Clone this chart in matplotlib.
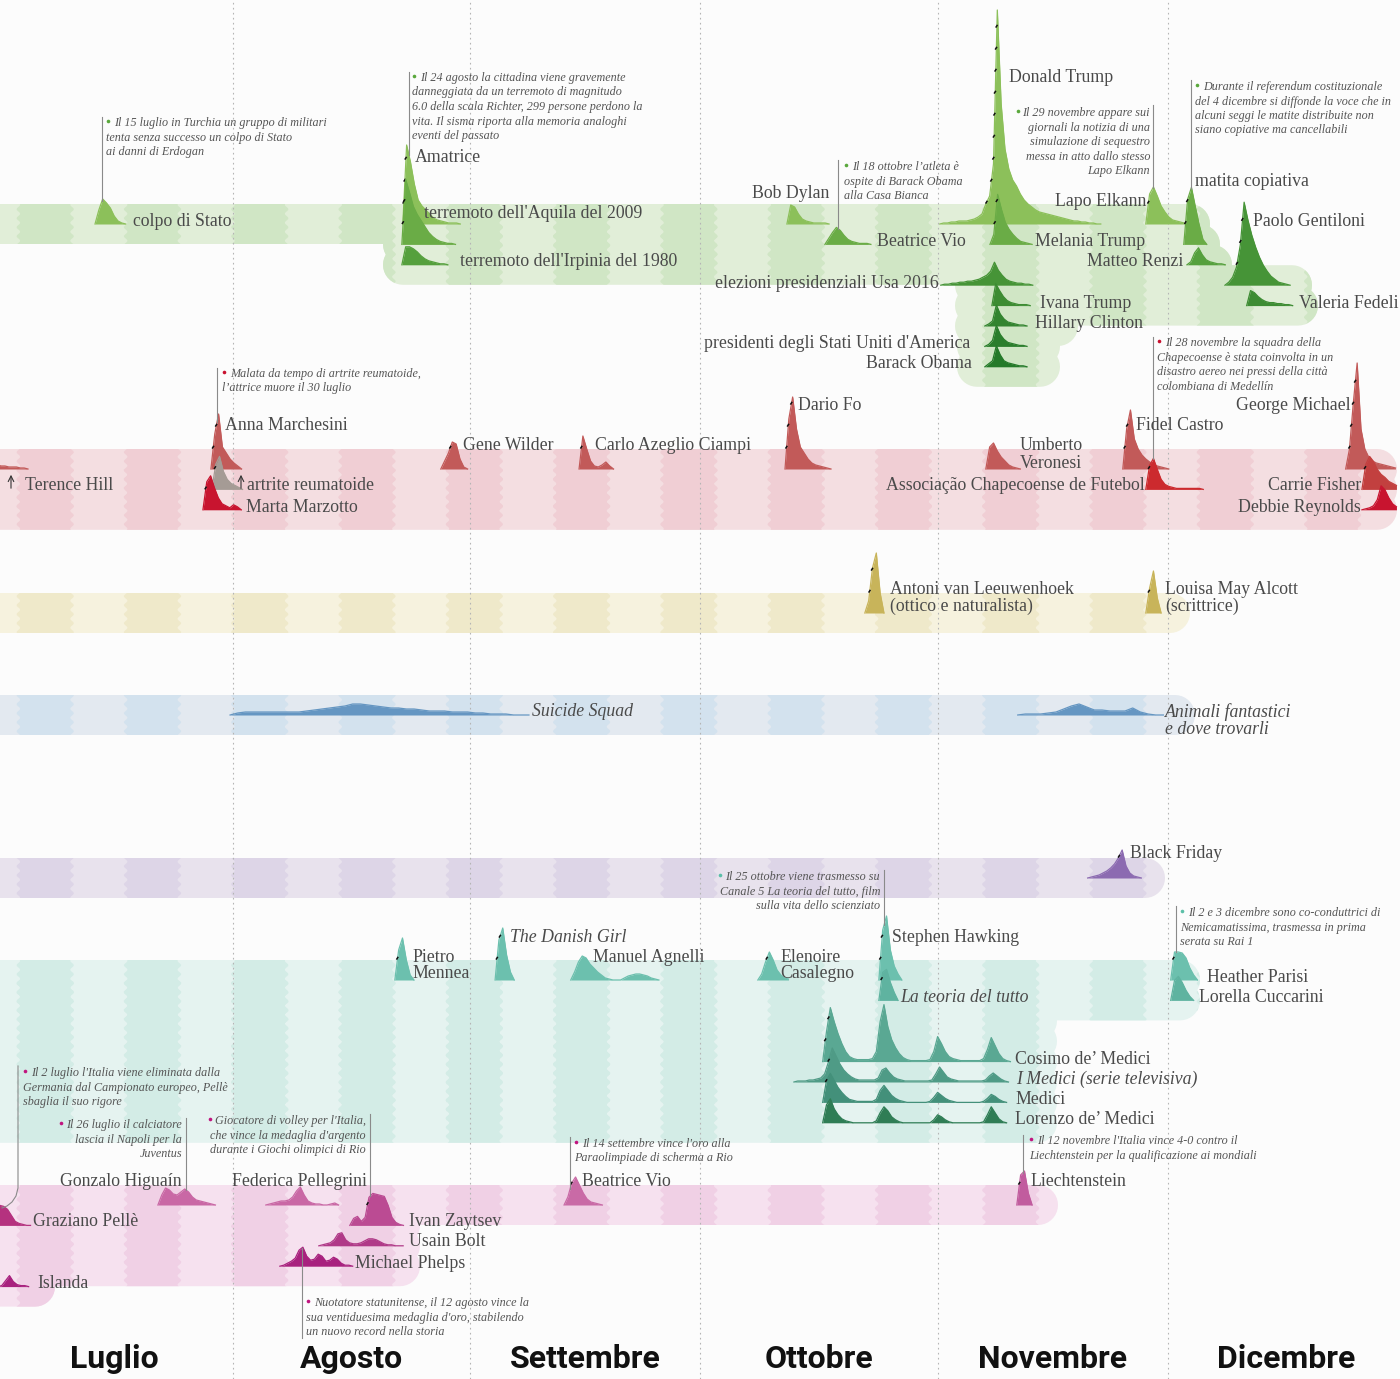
import numpy as np
import pandas as pd
import matplotlib.pyplot as plt
import matplotlib.dates as mdates
from matplotlib.patches import Polygon
from matplotlib.collections import PolyCollection, LineCollection

W, H = 1400, 1379
plt.rcParams['font.family'] = ['Liberation Serif', 'DejaVu Serif']

# ---------------------------------------------------------------- dati
# curve di interesse: data d'inizio e un valore ogni 12 ore (1 giorno per i film)

# politica e cronaca
pol_nomi = ['colpo di Stato', 'Amatrice', "terremoto dell'Aquila del 2009",
            "terremoto dell'Irpinia del 1980", 'Bob Dylan', 'Beatrice Vio', 'Donald Trump',
            'Melania Trump', 'Lapo Elkann', 'matita copiativa', 'Matteo Renzi', 'Paolo Gentiloni',
            'Valeria Fedeli', 'elezioni presidenziali Usa 2016', 'Ivana Trump', 'Hillary Clinton',
            "presidenti degli Stati Uniti d'America", 'Barack Obama']
pol_inizio = ['2016-07-14 00:00', '2016-08-23 04:00', '2016-08-23 01:00', '2016-08-23 01:00',
              '2016-10-12 07:00', '2016-10-17 06:00', '2016-11-01 06:00', '2016-11-07 19:00',
              '2016-11-28 03:00', '2016-12-03 02:00', '2016-12-03 12:00', '2016-12-08 11:00',
              '2016-12-11 07:00', '2016-11-01 09:00', '2016-11-08 01:00', '2016-11-07 03:00',
              '2016-11-07 03:00', '2016-11-07 03:00']
pol_valori = [
    [0, 14, 25, 21, 16, 8, 3, 1, 0],
    [0, 79, 62, 40, 24, 18, 14, 10, 6, 4, 3, 2, 1, 1, 1, 0],
    [0, 65, 52, 38, 30, 24, 18, 12, 8, 5, 3, 2, 1, 1, 0],
    [0, 18, 18, 16, 13, 9, 6, 4, 3, 2, 1, 1, 0],
    [0, 19, 17, 10, 5, 3, 2, 1, 1, 1, 1, 0],
    [0, 6, 12, 17, 14, 9, 5, 3, 2, 1, 1, 1, 0],
    [0, 1, 1, 2, 2, 3, 3, 3, 4, 5, 7, 10, 20, 28, 60, 214, 120, 75, 55, 44, 38, 30, 24, 20, 17,
     14, 12, 11, 10, 9, 8, 7, 6, 5, 4, 3, 3, 2, 2, 1, 1, 0, 0],
    [0, 10, 50, 35, 22, 15, 10, 6, 3, 2, 1, 0],
    [0, 30, 37, 28, 18, 12, 7, 4, 3, 2, 1, 0],
    [0, 45, 57, 38, 20, 5, 0],
    [0, 3, 12, 17, 10, 5, 3, 2, 1, 1, 0],
    [0, 3, 8, 18, 40, 83, 65, 50, 38, 28, 20, 14, 9, 6, 3, 2, 1, 0],
    [0, 15, 13, 9, 6, 4, 3, 3, 2, 2, 1, 1, 0],
    [0, 1, 1, 2, 2, 3, 3, 4, 4, 5, 6, 8, 10, 14, 23, 15, 10, 6, 4, 3, 2, 2, 1, 1, 0],
    [0, 22, 15, 9, 5, 3, 2, 1, 1, 1, 0],
    [0, 2, 5, 21, 12, 7, 4, 3, 2, 1, 1, 0],
    [0, 2, 6, 21, 12, 7, 4, 3, 2, 1, 1, 0],
    [0, 3, 6, 21, 12, 6, 4, 3, 2, 1, 1, 0],
]

# morti
mor_nomi = ['Terence Hill', 'Anna Marchesini', 'artrite reumatoide', 'Marta Marzotto', 'Gene Wilder',
            'Carlo Azeglio Ciampi', 'Dario Fo', 'Umberto\nVeronesi', 'Fidel Castro',
            'Associação Chapecoense de Futebol', 'George Michael', 'Carrie Fisher', 'Debbie Reynolds']
mor_inizio = ['2016-06-30 18:00', '2016-07-29 03:00', '2016-07-29 06:00', '2016-07-28 02:00',
              '2016-08-28 03:00', '2016-09-15 04:00', '2016-10-12 01:00', '2016-11-07 06:00',
              '2016-11-25 03:00', '2016-11-28 03:00', '2016-12-24 05:00', '2016-12-26 08:00',
              '2016-12-26 08:00']
mor_valori = [
    [5, 4, 3, 3, 2, 2, 2, 1, 1, 0],
    [0, 35, 55, 22, 16, 10, 6, 3, 0],
    [0, 25, 33, 18, 10, 6, 4, 2, 0],
    [0, 28, 34, 22, 12, 6, 4, 2, 5, 3, 0],
    [0, 8, 16, 27, 25, 10, 2, 0],
    [0, 33, 20, 8, 3, 2, 4, 7, 3, 0],
    [0, 50, 72, 40, 22, 16, 10, 6, 4, 3, 2, 1, 0],
    [0, 22, 26, 18, 12, 8, 4, 2, 1, 0],
    [0, 40, 59, 30, 20, 14, 10, 7, 5, 3, 2, 1, 0],
    [0, 24, 31, 20, 10, 5, 3, 2, 1, 1, 1, 1, 1, 1, 1, 0],
    [0, 20, 66, 106, 40, 20, 12, 8, 6, 5, 4, 3, 2, 1],
    [0, 25, 33, 28, 20, 15, 12, 8, 6, 4],
    [0, 1, 2, 4, 10, 24, 20, 12, 6, 3],
]

# doodle
doo_nomi = ['Antoni van Leeuwenhoek\n(ottico e naturalista)', 'Louisa May Alcott\n(scrittrice)']
doo_inizio = ['2016-10-22 11:00', '2016-11-28 03:00']
doo_valori = [[0, 12, 45, 60, 20, 0], [0, 25, 42, 15, 0]]

# film (valori giornalieri)
fil_nomi = ['Suicide Squad', 'Animali fantastici\ne dove trovarli']
fil_inizio = ['2016-07-31 15:00', '2016-11-11 10:00']
fil_valori = [
    [0, 2, 3, 3, 3, 3, 3, 3, 3, 3, 4, 5, 6, 7, 8, 9, 11, 11, 10, 9, 8, 7, 7, 6, 6, 5, 4, 4, 4, 3,
     3, 3, 2, 2, 1, 1, 1, 0, 0, 0],
    [0, 1, 1, 1, 2, 3, 6, 9, 11, 8, 5, 5, 4, 4, 4, 7, 3, 1, 0, 0],
]

# acquisti
acq_nomi = ['Black Friday']
acq_inizio = ['2016-11-20 13:00']
acq_valori = [[0, 1, 2, 3, 5, 7, 10, 14, 20, 28, 12, 5, 2, 1, 0]]

# tv e personaggi
tv_nomi = ['Pietro\nMennea', 'The Danish Girl', 'Manuel Agnelli', 'Elenoire\nCasalegno',
           'Stephen Hawking', 'La teoria del tutto', 'Heather Parisi', 'Lorella Cuccarini',
           'Cosimo de’ Medici', 'I Medici (serie televisiva)', 'Medici', 'Lorenzo de’ Medici']
tv_inizio = ['2016-08-22 03:00', '2016-09-04 05:00', '2016-09-14 02:00', '2016-10-08 12:00',
             '2016-10-24 07:00', '2016-10-24 07:00', '2016-12-01 09:00', '2016-12-01 09:00',
             '2016-10-16 23:00', '2016-10-13 05:00', '2016-10-16 23:00', '2016-10-16 23:00']
tv_valori = [
    [0, 30, 42, 20, 5, 0],
    [0, 40, 52, 25, 8, 0],
    [0, 8, 18, 24, 22, 16, 12, 8, 5, 2, 1, 0, 0, 0, 2, 4, 5, 6, 6, 5, 4, 2, 1, 0],
    [0, 6, 18, 28, 20, 10, 5, 2, 1],
    [0, 50, 64, 30, 14, 6, 0],
    [0, 28, 31, 18, 8, 0],
    [0, 28, 28, 27, 22, 12, 5, 0],
    [0, 20, 24, 18, 10, 4, 0],
    [0, 30, 54, 40, 28, 18, 10, 5, 3, 2, 2, 2, 2, 3, 10, 40, 57, 35, 22, 14, 8, 4, 2, 1, 1, 1,
     1, 1, 2, 10, 25, 18, 10, 5, 3, 2, 1, 1, 1, 1, 1, 1, 3, 12, 24, 16, 8, 3, 1, 0],
    [0, 1, 1, 1, 2, 2, 3, 4, 8, 20, 34, 26, 18, 12, 8, 5, 3, 2, 2, 2, 2, 2, 4, 12, 14, 9, 5, 3,
     2, 1, 1, 1, 1, 1, 1, 1, 2, 8, 15, 10, 5, 3, 2, 1, 1, 1, 1, 1, 1, 1, 2, 6, 9, 6, 3, 1, 0],
    [0, 22, 29, 22, 15, 10, 6, 3, 2, 1, 1, 1, 1, 1, 3, 12, 17, 12, 7, 4, 2, 1, 0, 0, 0, 0, 0, 0,
     1, 5, 10, 7, 4, 2, 1, 0, 0, 0, 0, 0, 0, 0, 1, 4, 8, 6, 3, 1, 0],
    [0, 18, 24, 14, 8, 4, 2, 1, 0, 0, 0, 0, 0, 0, 2, 10, 16, 12, 6, 3, 1, 0, 0, 0, 0, 0, 0, 0,
     0, 3, 8, 6, 3, 1, 0, 0, 0, 0, 0, 0, 0, 0, 1, 8, 16, 10, 4, 1, 0],
]

# sport
spo_nomi = ['Gonzalo Higuaín', 'Federica Pellegrini', 'Beatrice Vio', 'Liechtenstein',
            'Graziano Pellè', 'Ivan Zaytsev', 'Usain Bolt', 'Michael Phelps', 'Islanda']
spo_inizio = ['2016-07-22 05:00', '2016-08-05 07:00', '2016-09-13 05:00', '2016-11-11 07:00',
              '2016-07-01 02:00', '2016-08-16 06:00', '2016-08-12 05:00', '2016-08-07 03:00',
              '2016-07-01 08:00']
spo_valori = [
    [0, 10, 17, 15, 11, 10, 13, 16, 13, 8, 5, 4, 3, 2, 1, 0],
    [0, 1, 2, 3, 4, 4, 5, 8, 14, 18, 10, 4, 2, 1, 1, 0, 0, 1, 2, 0],
    [0, 8, 22, 28, 20, 12, 6, 3, 2, 1, 0],
    [0, 30, 34, 12, 0],
    [18, 20, 19, 16, 10, 4, 2, 1, 0, 0],
    [0, 7, 9, 4, 8, 28, 32, 31, 30, 29, 20, 8, 3, 1, 0],
    [0, 1, 2, 3, 6, 12, 13, 6, 3, 2, 2, 3, 5, 7, 7, 6, 4, 2, 1, 1, 0, 0, 0],
    [0, 1, 3, 5, 8, 16, 19, 10, 6, 7, 12, 10, 5, 6, 9, 7, 3, 1, 1, 0],
    [0, 1, 6, 11, 5, 2, 1, 1, 0],
]

mesi = ['Luglio', 'Agosto', 'Settembre', 'Ottobre', 'Novembre', 'Dicembre']

# ---------------------------------------------------------------- impaginazione
RIGA = 20.4          # distanza tra le righe di una fascia (px)
MEZZA = 20           # mezza altezza di una riga
TACCA = 22           # passo delle tacche sulle curve
DY = 2               # piccolo scarto verticale del testo

temi = [
    dict(nomi=pol_nomi, inizio=pol_inizio, valori=pol_valori, passo=0.5, base=224,
         righe=[0, 0, 1, 2, 0, 1, 0, 1, 0, 1, 2, 3, 4, 3, 4, 5, 6, 7],
         colori=['#8cc05a', '#6aac46', '#55a03d', '#469437', '#3d8c33', '#338430', '#2b7e2d', '#257a2a'],
         banda='#e1eed8', striscia='#d0e6c5', punto='#5aa83c',
         fascia=[(0, -40, 1210), (1, 383, 1220), (2, 383, 1232), (3, 955, 1312), (4, 955, 1318),
                 (5, 955, 1078), (6, 957, 1060), (7, 957, 1060)],
         etichette=[(133, 219, 'left'), (415, 155, 'left'), (424, 211, 'left'), (460, 260, 'left'),
                    (829, 192, 'right'), (877, 240, 'left'), (1009, 76, 'left'), (1035, 240, 'left'),
                    (1146, 199, 'right'), (1195, 179, 'left'), (1183, 260, 'right'),
                    (1253, 219, 'left'), (1299, 301, 'left'), (939, 281, 'right'),
                    (1040, 301, 'left'), (1035, 321, 'left'), (970, 342, 'right'),
                    (972, 362, 'right')]),
    dict(nomi=mor_nomi, inizio=mor_inizio, valori=mor_valori, passo=0.5, base=469,
         righe=[0, 0, 1, 2, 0, 0, 0, 0, 0, 1, 0, 1, 2],
         colori=['#c25a59', '#c25a59', '#a59b95', '#c8142f', '#c25a59', '#c25a59', '#c25a59',
                 '#c25a59', '#c25a59', '#cc2a2e', '#c25a59', '#c2403f', '#c8142f'],
         banda='#f4dee1', striscia='#f0ced4', punto='#c8102e',
         fascia=[(0, -40, 1397), (1, -40, 1397), (2, -40, 1397)],
         etichette=[(25, 484, 'left'), (225, 423, 'left'), (247, 484, 'left'), (246, 505, 'left'),
                    (463, 444, 'left'), (595, 444, 'left'), (798, 403, 'left'), (1020, 444, 'left'),
                    (1136, 423, 'left'), (1145, 484, 'right'), (1351, 404, 'right'),
                    (1361, 484, 'right'), (1361, 505, 'right')]),
    dict(nomi=doo_nomi, inizio=doo_inizio, valori=doo_valori, passo=0.5, base=613,
         righe=[0, 0], colori=['#c8b45a', '#c8b45a'],
         banda='#f6f2de', striscia='#efe9ca', punto='#c8b45a',
         fascia=[(0, -40, 1190)],
         etichette=[(890, 587, 'left'), (1165, 587, 'left')]),
    dict(nomi=fil_nomi, inizio=fil_inizio, valori=fil_valori, passo=1.0, base=715,
         righe=[0, 0], colori=['#6596c2', '#6596c2'],
         banda='#e3e9f0', striscia='#d3e2ee', punto='#6596c2',
         fascia=[(0, -40, 1195)],
         etichette=[(532, 710, 'left'), (1165, 710, 'left')]),
    dict(nomi=acq_nomi, inizio=acq_inizio, valori=acq_valori, passo=0.5, base=878,
         righe=[0], colori=['#8c6bb1'],
         banda='#e8e2ed', striscia='#ddd5e7', punto='#8c6bb1',
         fascia=[(0, -40, 1165)],
         etichette=[(1130, 852, 'left')]),
    dict(nomi=tv_nomi, inizio=tv_inizio, valori=tv_valori, passo=0.5, base=980,
         righe=[0, 0, 0, 0, 0, 1, 0, 1, 4, 5, 6, 7],
         colori=['#6cc0ae', '#6cc0ae', '#6cc0ae', '#6cc0ae', '#6cc0ae', '#5fb3a0', '#6cc0ae',
                 '#5fb3a0', '#5aa893', '#4f9b86', '#43907a', '#2f7d55'],
         banda='#e5f3f0', striscia='#d3ece6', punto='#5bbfa8',
         fascia=[(0, -40, 1200), (1, -40, 1200), (2, -40, 1057), (3, -40, 1057), (4, -40, 1057),
                 (5, -40, 1057), (6, -40, 1057), (7, -40, 1057)],
         etichette=[(412, 955, 'left'), (510, 935, 'left'), (593, 955, 'left'), (780, 955, 'left'),
                    (892, 935, 'left'), (900, 996, 'left'), (1207, 975, 'left'), (1199, 996, 'left'),
                    (1015, 1057, 'left'), (1016, 1077, 'left'), (1015, 1098, 'left'),
                    (1015, 1118, 'left')]),
    dict(nomi=spo_nomi, inizio=spo_inizio, valori=spo_valori, passo=0.5, base=1205,
         righe=[0, 0, 0, 0, 1, 1, 2, 3, 4],
         colori=['#c968a5', '#c968a5', '#c96aa6', '#c15c9e', '#b5327f', '#bb4b93', '#b03a88',
                 '#a8217e', '#a8217e'],
         banda='#f6e1ef', striscia='#f0d0e5', punto='#c0157f',
         fascia=[(0, -40, 1058), (1, -40, 420), (2, -40, 420), (3, -40, 420), (4, -40, 55)],
         etichette=[(182, 1179, 'right'), (367, 1179, 'right'), (582, 1179, 'left'),
                    (1030, 1179, 'left'), (33, 1220, 'left'), (409, 1220, 'left'),
                    (409, 1240, 'left'), (355, 1261, 'left'), (37, 1281, 'left')]),
]
corsivi = {'Suicide Squad', 'Animali fantastici\ne dove trovarli', 'The Danish Girl',
           'La teoria del tutto', 'I Medici (serie televisiva)'}

# note: (tema, curva, x testo, y prima riga, allineamento, x linea, y estremo linea, righe)
note = [
    (0, 'colpo di Stato', 106, 121, 'left', 102, 117,
     ['Il 15 luglio in Turchia un gruppo di militari', 'tenta senza successo un colpo di Stato',
      'ai danni di Erdogan']),
    (0, 'Amatrice', 412, 76, 'left', 409, 72,
     ['Il 24 agosto la cittadina viene gravemente', 'danneggiata da un terremoto di magnitudo',
      '6.0 della scala Richter, 299 persone perdono la', 'vita. Il sisma riporta alla memoria analoghi',
      'eventi del passato']),
    (0, 'Beatrice Vio', 844, 165, 'left', 838, 160,
     ['Il 18 ottobre l’atleta è', 'ospite di Barack Obama', 'alla Casa Bianca']),
    (0, 'Lapo Elkann', 1150, 111, 'right', 1153, 105,
     ['Il 29 novembre appare sui', 'giornali la notizia di una', 'simulazione di sequestro',
      'messa in atto dallo stesso', 'Lapo Elkann']),
    (0, 'matita copiativa', 1195, 85, 'left', 1191, 80,
     ['Durante il referendum costituzionale', 'del 4 dicembre si diffonde la voce che in',
      'alcuni seggi le matite distribuite non', 'siano copiative ma cancellabili']),
    (1, 'Anna Marchesini', 222, 372, 'left', 217, 368,
     ['Malata da tempo di artrite reumatoide,', 'l’attrice muore il 30 luglio']),
    (1, 'Associação Chapecoense de Futebol', 1157, 341, 'left', 1153, 337,
     ['Il 28 novembre la squadra della', 'Chapecoense è stata coinvolta in un',
      'disastro aereo nei pressi della città', 'colombiana di Medellín']),
    (5, 'Stephen Hawking', 880, 875, 'right', 884, 870,
     ['Il 25 ottobre viene trasmesso su', 'Canale 5 La teoria del tutto, film',
      'sulla vita dello scienziato']),
    (5, 'Heather Parisi', 1180, 911, 'left', 1176, 906,
     ['Il 2 e 3 dicembre sono co-conduttrici di', 'Nemicamatissima, trasmessa in prima',
      'serata su Rai 1']),
    (6, 'Graziano Pellè', 23, 1071, 'left', None, None,
     ["Il 2 luglio l'Italia viene eliminata dalla", 'Germania dal Campionato europeo, Pellè',
      'sbaglia il suo rigore']),
    (6, 'Gonzalo Higuaín', 182, 1123, 'right', 186, 1118,
     ['Il 26 luglio il calciatore', 'lascia il Napoli per la', 'Juventus']),
    (6, 'Ivan Zaytsev', 366, 1119, 'right', 370, 1114,
     ["Giocatore di volley per l'Italia,", "che vince la medaglia d'argento",
      'durante i Giochi olimpici di Rio']),
    (6, 'Beatrice Vio', 574, 1142, 'left', 570, 1137,
     ["Il 14 settembre vince l'oro alla", 'Paraolimpiade di scherma a Rio']),
    (6, 'Liechtenstein', 1029, 1139, 'left', 1023, 1135,
     ["Il 12 novembre l'Italia vince 4-0 contro il", 'Liechtenstein per la qualificazione ai mondiali']),
    (6, 'Michael Phelps', 306, 1301, 'left', 302, 1338,
     ['Nuotatore statunitense, il 12 agosto vince la', "sua ventiduesima medaglia d'oro, stabilendo",
      'un nuovo record nella storia']),
]

# ---------------------------------------------------------------- disegno
SFONDO = '#fcfcfc'
TESTO = '#4a4a4a'
fig = plt.figure(figsize=(W / 100, H / 100), dpi=100, facecolor=SFONDO)
ax = fig.add_axes([0, 0, 1, 1])
ax.set_facecolor(SFONDO)
t0 = mdates.date2num(pd.Timestamp('2016-07-01'))
ax.set_xlim(t0 + 0.6, t0 + 183.3)
ax.set_ylim(H, 0)
ax.axis('off')
xa0, xa1 = ax.get_xlim()
GPX = (xa1 - xa0) / W


def px2x(p):
    return xa0 + np.asarray(p, dtype=float) * GPX


def bordo(pa, pb, ya, yb, r=20, n=10):
    r = min(r, (yb - ya) / 2, (pb - pa) / 2)
    a = np.linspace(0, np.pi / 2, n)
    pts = []
    for cx, cy, a0 in [(pb - r, ya + r, -np.pi / 2), (pb - r, yb - r, 0),
                       (pa + r, yb - r, np.pi / 2), (pa + r, ya + r, np.pi)]:
        pts += list(zip(cx + r * np.cos(a0 + a), cy + r * np.sin(a0 + a)))
    pts = np.array(pts)
    pts[:, 0] = px2x(pts[:, 0])
    return pts


settimane = pd.date_range('2016-06-20', '2017-01-10', freq='14D')


def strisce(ya, yb):
    yy = np.arange(ya, yb + 1, 1.0)
    onda = 1.8 * GPX * np.sin(2 * np.pi * yy / 9.0)
    polys = []
    for s in settimane:
        a = mdates.date2num(s)
        b = a + 7
        sx = np.column_stack([a - onda, yy])
        dx = np.column_stack([b + onda, yy])[::-1]
        polys.append(np.vstack([sx, dx]))
    return polys


curve = {}
for it, t in enumerate(temi):
    # fascia di sfondo con le settimane alterne
    patches = []
    for r, pa, pb in t['fascia']:
        yc = t['base'] + r * RIGA
        p = Polygon(bordo(pa, pb, yc - MEZZA, yc + MEZZA), closed=True, fc=t['banda'],
                    ec='none', zorder=1)
        ax.add_patch(p)
        patches.append(p)
    rmax = max(f[0] for f in t['fascia'])
    polys = strisce(t['base'] - MEZZA - 2, t['base'] + rmax * RIGA + MEZZA + 2)
    for p in patches:
        pc = PolyCollection(polys, facecolors=t['striscia'], edgecolors='none', zorder=2)
        ax.add_collection(pc)
        pc.set_clip_path(p)

    ordine = sorted(range(len(t['nomi'])), key=lambda i: t['righe'][i])
    for k, i in enumerate(ordine):
        v = np.array(t['valori'][i], dtype=float)
        x = mdates.date2num(pd.Timestamp(t['inizio'][i])) + np.arange(len(v)) * t['passo']
        r = t['righe'][i]
        yb = t['base'] + r * RIGA
        col = t['colori'][i] if len(t['colori']) == len(t['nomi']) else t['colori'][r]
        z = 4 + r * 0.05 + k * 0.001
        ax.fill_between(x, yb, yb - v, color=col, lw=0, zorder=z)
        ax.plot(x, yb - v, color=col, lw=0.9, zorder=z)
        curve[(it, t['nomi'][i])] = (x, v, yb)
        # tacche nere sul fianco sinistro
        seg = []
        for liv in np.arange(TACCA, v.max() - 4, TACCA):
            j = int(np.argmax(v >= liv))
            xx = np.interp(liv, [v[j - 1], v[j]], [x[j - 1], x[j]])
            seg.append([(xx - 1.2 * GPX, yb - liv + 1.6), (xx + 0.6 * GPX, yb - liv - 1.2)])
        if seg:
            ax.add_collection(LineCollection(seg, colors='#111111', lw=1.1, zorder=z + 0.0005))

    # etichette
    for nome, (xp, yp, ha) in zip(t['nomi'], t['etichette']):
        stile = 'italic' if nome in corsivi else 'normal'
        for k, riga in enumerate(nome.split('\n')):
            ax.text(px2x(xp), yp + DY + k * 17, riga, ha=ha, va='center', fontsize=12.8,
                    color=TESTO, style=stile, zorder=8)

# linee dei mesi
for m in pd.date_range('2016-08-01', periods=5, freq='MS'):
    ax.axvline(mdates.date2num(m), color='#b5b5b5', lw=0.8, ls=(0, (1.5, 3)), zorder=3)

# frecce per le voci che compaiono nella riga sopra
for xp in [11, 241]:
    ax.annotate('', xy=(px2x(xp), 472), xytext=(px2x(xp), 491),
                arrowprops=dict(arrowstyle='->', color='#333333', lw=0.8), zorder=8)

# note
fig.canvas.draw()
rend = fig.canvas.get_renderer()
NOTA = dict(va='center', fontsize=8.7, style='italic', color='#555555', zorder=8)
for it, nome, tx, ty, ha, lx, ly, righe in note:
    colp = temi[it]['punto']
    for k, s in enumerate(righe):
        y = ty + k * 14.5
        if k == 0 and ha == 'left':
            ax.plot(px2x(tx + 2), y, 'o', ms=2.6, color=colp, mec='none', zorder=8)
            ax.text(px2x(tx + 8), y + DY, s, ha='left', **NOTA)
        else:
            tt = ax.text(px2x(tx), y + DY, s, ha=ha, **NOTA)
            if k == 0:
                bb = tt.get_window_extent(rend)
                ax.plot(px2x(bb.x0 - 5), y, 'o', ms=2.6, color=colp, mec='none', zorder=8)
    x, v, yb = curve[(it, nome)]
    if lx is None:
        # collegamento curvo verso la curva di Pellè
        yy = np.array([ty - 5, 1188, 1196, 1202, 1206, 1208])
        xx = np.array([18, 18, 16, 12, 7, 2])
        ax.plot(px2x(xx), yy, color='#8a8a8a', lw=0.8, zorder=7)
        continue
    yp = yb - np.interp(px2x(lx), x, v, left=0, right=0)
    ax.plot([px2x(lx), px2x(lx)], [ly, yp], color='#8a8a8a', lw=0.8, zorder=7)

# mesi
for m, nome in zip(pd.date_range('2016-07-01', periods=6, freq='MS'), mesi):
    mid = mdates.date2num(m) + m.days_in_month / 2
    ax.text(mid, 1359, nome, ha='center', va='center', fontsize=23, fontweight='bold',
            family=['Liberation Sans Narrow', 'Roboto', 'DejaVu Sans'], color='#111111', zorder=8)

fig.savefig('out.png', dpi=100, facecolor=SFONDO)
